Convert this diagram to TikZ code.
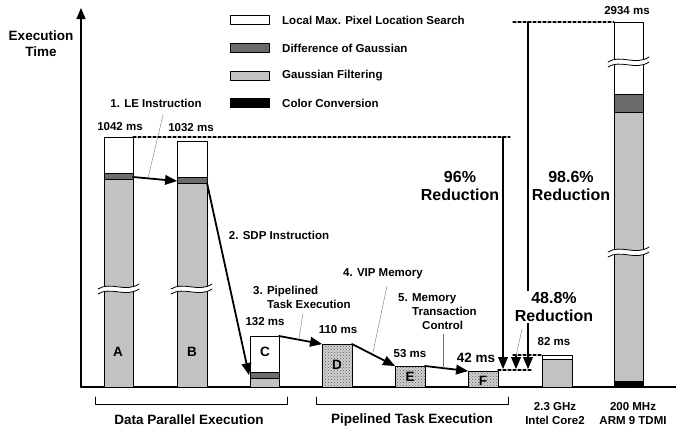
\documentclass[tikz,border=0pt]{standalone}
\usepackage{fontspec}
\setmainfont{Liberation Sans}
\usetikzlibrary{arrows,patterns}
\definecolor{gris}{gray}{0.76}
\definecolor{grisfonce}{gray}{0.42}

\begin{document}
\begin{tikzpicture}[line cap=round,line join=round,>=triangle 45,x=1pt,y=-1pt,
	txt/.style={font=\fontsize{11.5}{14}\selectfont\bfseries,inner sep=0pt},
	moyen/.style={font=\fontsize{13.5}{16}\selectfont\bfseries,inner sep=0pt,align=center},
	gros/.style={font=\fontsize{16}{18.5}\selectfont\bfseries,inner sep=1pt,align=center},
	barre/.style={draw=black,line width=0.8pt},
	fleche/.style={->,line width=1.8pt},
	fil/.style={black!55,line width=0.4pt},
	tirets/.style={line width=1.1pt,dash pattern=on 3pt off 2pt},
	hachure/.style={barre,preaction={fill=black!18},pattern=crosshatch dots,pattern color=black!65}]
			\useasboundingbox (0,0) rectangle (676,432);
			%axes
			\draw[->,line width=1.6pt] (81,387)--(81,8);
			\draw[line width=1.6pt] (81,387)--(676,387);
			\node[moyen] (titre) at (41,44) {Execution\\Time};
			%legende
			\foreach \c/\t/\y in {white/Local Max. Pixel Location Search/20,grisfonce/Difference of Gaussian/48,gris/Gaussian Filtering/76,black/Color Conversion/103}{
				\draw[barre,fill=\c] (230,\y-4.5) rectangle (269,\y+4.5);
				\node[txt,anchor=west] (leg\y) at (282,\y) {\t};
			}
			%barres A et B
			\draw[barre,fill=gris] (104,179) rectangle (133,387);
			\draw[barre,fill=grisfonce] (104,173) rectangle (133,179);
			\draw[barre,fill=white] (104,137) rectangle (133,173);
			\draw[barre,fill=gris] (177,183) rectangle (207,387);
			\draw[barre,fill=grisfonce] (177,177) rectangle (207,183);
			\draw[barre,fill=white] (177,141) rectangle (207,177);
			%barre C
			\draw[barre,fill=gris] (250,378) rectangle (279,387);
			\draw[barre,fill=grisfonce] (250,372) rectangle (279,378);
			\draw[barre,fill=white] (250,336) rectangle (279,372);
			%barres D, E, F
			\draw[hachure] (322,344) rectangle (352,387);
			\draw[hachure] (395,366) rectangle (425,387);
			\draw[hachure] (468,371) rectangle (498,387);
			%barres Intel et ARM
			\draw[barre,fill=gris] (542,359) rectangle (572,387);
			\draw[barre,fill=white] (542,355) rectangle (572,359);
			\draw[barre,fill=black] (614,381) rectangle (643,387);
			\draw[barre,fill=gris] (614,112) rectangle (643,381);
			\draw[barre,fill=grisfonce] (614,94) rectangle (643,112);
			\draw[barre,fill=white] (614,22) rectangle (643,94);
			%coupures
			\foreach \xa/\ya in {104/287,177/287,614/60,614/250}{
				\fill[white] (\xa-6,\ya+2) .. controls (\xa+6,\ya-6) and (\xa+22,\ya+6) .. (\xa+35,\ya-3)
					-- (\xa+35,\ya+2) .. controls (\xa+22,\ya+11) and (\xa+6,\ya-1) .. (\xa-6,\ya+7) -- cycle;
				\draw[line width=0.8pt] (\xa-6,\ya+2) .. controls (\xa+6,\ya-6) and (\xa+22,\ya+6) .. (\xa+35,\ya-3);
				\draw[line width=0.8pt] (\xa-6,\ya+7) .. controls (\xa+6,\ya-1) and (\xa+22,\ya+11) .. (\xa+35,\ya+2);
			}
			%lettres et temps
			\node[moyen] (lA) at (118,352) {A};
			\node[moyen] (lB) at (192,352) {B};
			\node[moyen] (lC) at (265,352) {C};
			\node[moyen] (lD) at (337,365) {D};
			\node[moyen] (lE) at (410,377) {E};
			\node[moyen] (lF) at (483,381) {F};
			\node[txt] (tA) at (120,127) {1042 ms};
			\node[txt] (tB) at (191,128) {1032 ms};
			\node[txt] (tC) at (265,322) {132 ms};
			\node[txt] (tD) at (338,330) {110 ms};
			\node[txt] (tE) at (410,354) {53 ms};
			\node[moyen] (tF) at (476,358) {42 ms};
			\node[txt] (tI) at (554,342) {82 ms};
			\node[txt] (tR) at (627,11) {2934 ms};
			%points des fleches
			\coordinate (a1) at (133,177);
			\coordinate (b1) at (177,181);
			\coordinate (b2) at (207,183);
			\coordinate (c2) at (249,375);
			\coordinate (c3) at (279,336);
			\coordinate (d3) at (322,344);
			\coordinate (d4) at (352,344);
			\coordinate (e4) at (395,366);
			\coordinate (e5) at (425,366);
			\coordinate (f5) at (468,371);
			\draw[fleche] (a1)--(b1);
			\draw[fleche] (b2)--(c2);
			\draw[fleche] (c3)--(d3);
			\draw[fleche] (d4)--(e4);
			\draw[fleche] (e5)--(f5);
			%etapes
			\node[txt] (s1) at (156,103) {1. LE Instruction};
			\node[txt] (s2) at (279,235) {2. SDP Instruction};
			\node[txt,anchor=west,align=left] (s3) at (253,297) {3. Pipelined\\\hspace*{14pt}Task Execution};
			\node[txt] (s4) at (383,274) {4. VIP Memory};
			\node[txt,anchor=west,align=left] (s5) at (398,312) {5. Memory\\\hspace*{14pt}Transaction\\\hspace*{24pt}Control};
			\draw[fil] (163,115)--(148,178);
			\draw[fil] (303,313)--(299,339);
			\draw[fil] (387,286)--(373,352);
			\draw[fil] (443,334)--(443,368);
			%reductions
			\draw[tirets] (133,137)--(510,137);
			\draw[tirets] (513,22)--(614,22);
			\draw[tirets] (513,355)--(542,355);
			\draw[tirets] (498,370)--(532,370);
			\coordinate (h96) at (503,137);
			\coordinate (p96) at (503,369);
			\coordinate (h986) at (528,22);
			\coordinate (p986) at (528,369);
			\coordinate (h488) at (516,355);
			\coordinate (p488) at (516,369);
			\draw[fleche] (h96)--(p96);
			\draw[fleche] (h986)--(p986);
			\draw[fleche] (h488)--(p488);
			\node[gros] (r96) at (460,186) {96\%\\Reduction};
			\node[gros] (r986) at (571,186) {98.6\%\\Reduction};
			\node[gros,fill=white] (r488) at (554,307) {48.8\%\\Reduction};
			\draw[fil] (522,329)--(516,356);
			%groupes
			\draw[line width=0.8pt] (95,397)--(95,404)--(287,404)--(287,397);
			\draw[line width=0.8pt] (316,397)--(316,404)--(508,404)--(508,397);
			\node[moyen] (g1) at (189,420) {Data Parallel Execution};
			\node[moyen] (g2) at (412,420) {Pipelined Task Execution};
			\node[txt,align=center] (g3) at (555,414) {2.3 GHz\\Intel Core2};
			\node[txt,align=center] (g4) at (633,414) {200 MHz\\ARM 9 TDMI};
\end{tikzpicture}
\end{document}
